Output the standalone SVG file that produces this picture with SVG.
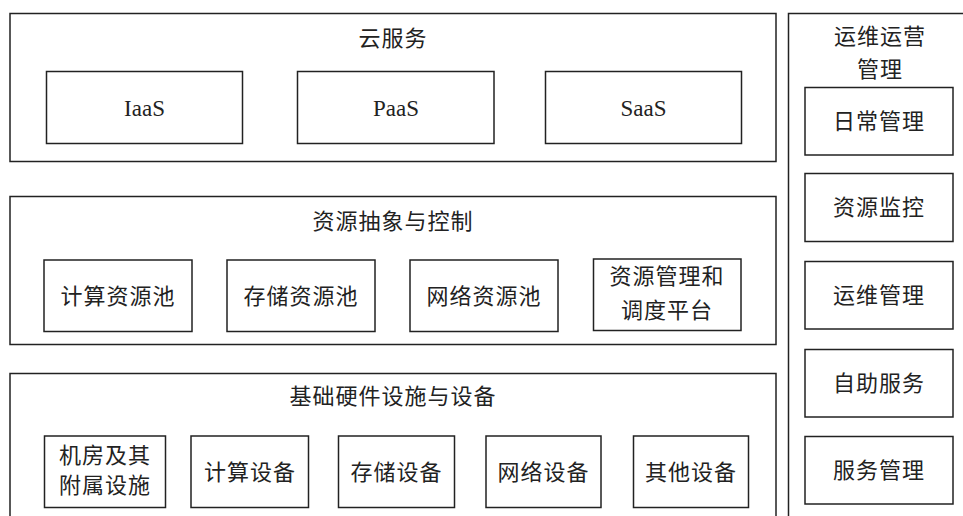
<svg xmlns="http://www.w3.org/2000/svg" width="963" height="516" viewBox="0 0 963 516">
<style>
rect{fill:#fff;stroke:#222;stroke-width:1.5}
text{font-family:"Noto Sans CJK SC","Noto Sans",sans-serif;font-size:22px;fill:#222;text-anchor:middle;letter-spacing:1px}
.lat{font-family:"Liberation Serif",serif;font-size:23px;letter-spacing:0}
</style>
<rect width="963" height="516" style="fill:#fff;stroke:none"/>
<g id="cloud">
<rect x="10" y="13.5" width="766" height="148"/>
<text x="393" y="46">云服务</text>
</g>
<g id="iaas"><rect x="46.5" y="71.5" width="196" height="72"/><text class="lat" x="144.5" y="116">IaaS</text></g>
<g id="paas"><rect x="297.5" y="71.5" width="196.5" height="72"/><text class="lat" x="396" y="116">PaaS</text></g>
<g id="saas"><rect x="545.5" y="71.5" width="196" height="72"/><text class="lat" x="643.5" y="116">SaaS</text></g>

<g id="ops">
<rect x="788.5" y="13.5" width="200" height="600"/>
<text x="880" y="44">运维运营</text>
<text x="880" y="77">管理</text>
</g>
<g id="daily"><rect x="805" y="87.5" width="148" height="67.5"/><text x="879" y="129">日常管理</text></g>
<g id="monitor"><rect x="805" y="173.5" width="148" height="68"/><text x="879" y="215">资源监控</text></g>
<g id="opsmgmt"><rect x="805" y="261.5" width="148" height="67.5"/><text x="879" y="303">运维管理</text></g>
<g id="self"><rect x="805" y="349.5" width="148" height="67.5"/><text x="879" y="391">自助服务</text></g>
<g id="svcmgmt"><rect x="805" y="436.5" width="148" height="67.5"/><text x="879" y="478">服务管理</text></g>

<g id="abstract">
<rect x="10" y="196.5" width="766" height="148"/>
<text x="393" y="229">资源抽象与控制</text>
</g>
<g id="compool"><rect x="44" y="260" width="148" height="71.5"/><text x="118" y="304">计算资源池</text></g>
<g id="stopool"><rect x="227" y="260" width="148" height="71.5"/><text x="301" y="304">存储资源池</text></g>
<g id="netpool"><rect x="410" y="260" width="148" height="71.5"/><text x="484" y="304">网络资源池</text></g>
<g id="sched"><rect x="593.5" y="259" width="147.5" height="71.5"/><text x="667" y="284">资源管理和</text><text x="667" y="318">调度平台</text></g>

<g id="infra">
<rect x="10" y="373.5" width="766" height="200"/>
<text x="393" y="404">基础硬件设施与设备</text>
</g>
<g id="room"><rect x="44.5" y="436" width="121" height="71.5"/><text x="105" y="463">机房及其</text><text x="105" y="493">附属设施</text></g>
<g id="comdev"><rect x="191" y="436" width="117.5" height="71.5"/><text x="250" y="480">计算设备</text></g>
<g id="stodev"><rect x="338.5" y="436" width="116" height="71.5"/><text x="396.5" y="480">存储设备</text></g>
<g id="netdev"><rect x="486" y="436" width="115" height="71.5"/><text x="543.5" y="480">网络设备</text></g>
<g id="otherdev"><rect x="633.5" y="436" width="115" height="71.5"/><text x="691" y="480">其他设备</text></g>
<g id="connectors"/>
</svg>
